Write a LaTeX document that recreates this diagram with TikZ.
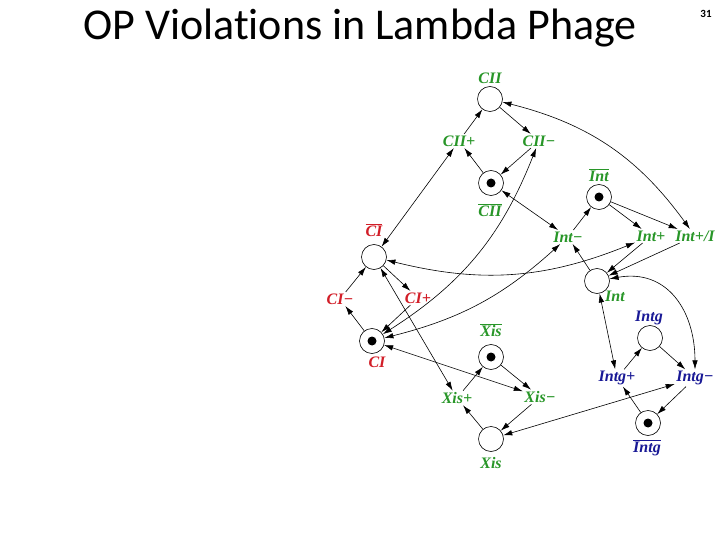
\documentclass[tikz,border=0pt]{standalone}
\usepackage{fontspec}
\setmainfont{Liberation Serif}
\newfontfamily\titlefont[Ligatures=NoCommon]{Carlito}
\usetikzlibrary{arrows.meta}
\definecolor{cgreen}{RGB}{40,150,40}
\definecolor{cred}{RGB}{210,30,40}
\definecolor{cblue}{RGB}{25,25,150}
\begin{document}
\begin{tikzpicture}[x=1pt,y=1pt,
 place/.style={circle,draw,minimum size=25pt,inner sep=0pt,line width=0.6pt},
 tok/.style={place,path picture={\fill[black] (path picture bounding box.center) circle (4.5pt);}},
 tr/.style={inner sep=1.5pt,font=\bfseries\itshape\fontsize{16}{16}\selectfont},
 lab/.style={inner sep=0pt,font=\bfseries\itshape\fontsize{16}{16}\selectfont},
 arc/.style={-{Latex[length=9pt,width=5.5pt]},line width=0.6pt},
 darc/.style={{Latex[length=9pt,width=5.5pt]}-{Latex[length=9pt,width=5.5pt]},line width=0.6pt}]
\fill[white] (0,0) rectangle (720,-540);
\useasboundingbox (0,0) rectangle (720,-540);

\node[font=\titlefont\fontsize{44}{44}\selectfont,anchor=base] (title) at (360,-40) {OP Violations in Lambda Phage};
\node[font=\titlefont\fontsize{11}{11}\selectfont\bfseries] (pg) at (706,-14) {31};

% CII
\node[place] (CII) at (490,-99) {};
\node[lab,cgreen] (lCII) at (490,-78) {CII};
\node[tok] (CIIb) at (491,-183) {};
\node[lab,cgreen] (lCIIb) at (490,-210) {$\overline{\mbox{CII}}$};
\node[tr,cgreen] (CIIp) at (459,-141) {CII+};
\node[tr,cgreen] (CIIm) at (539,-141) {CII−};
% Int
\node[tok] (Intb) at (599,-197) {};
\node[lab,cgreen] (lIntb) at (599,-175) {$\overline{\mbox{Int}}$};
\node[place] (Int) at (597,-281) {};
\node[lab,cgreen] (lInt) at (615,-296) {Int};
\node[tr,cgreen] (Intm) at (568,-237) {Int−};
\node[tr,cgreen] (Intp) at (651,-236) {Int+};
\node[tr,cgreen] (IntpI) at (695,-236) {Int+/I};
% CI
\node[place] (CIb) at (374,-257) {};
\node[lab,cred] (lCIb) at (374,-230) {$\overline{\mbox{CI}}$};
\node[tok] (CI) at (372,-341) {};
\node[lab,cred] (lCI) at (377,-362) {CI};
\node[tr,cred] (CIm) at (340,-299) {CI−};
\node[tr,cred] (CIp) at (418,-298) {CI+};
% Xis
\node[tok] (Xisb) at (491,-357) {};
\node[lab,cgreen] (lXisb) at (491,-330) {$\overline{\mbox{Xis}}$};
\node[place] (Xis) at (491,-439) {};
\node[lab,cgreen] (lXis) at (491,-463) {Xis};
\node[tr,cgreen] (Xisp) at (457,-398) {Xis+};
\node[tr,cgreen] (Xism) at (540,-397) {Xis−};
% Intg
\node[place] (Intg) at (650,-338) {};
\node[lab,cblue] (lIntg) at (649,-318) {Intg};
\node[tok] (Intgb) at (648,-423) {};
\node[lab,cblue] (lIntgb) at (647,-448) {$\overline{\mbox{Intg}}$};
\node[tr,cblue] (Intgp) at (617,-378) {Intg+};
\node[tr,cblue] (Intgm) at (695,-378) {Intg−};

% single arcs
\draw[arc] (CIIp) -- (CII);
\draw[arc] (CII) -- (CIIm);
\draw[arc] (CIIm) -- (CIIb);
\draw[arc] (CIIb) -- (CIIp);
\draw[arc] (CIb) -- (CIp);
\draw[arc] (CIp) -- (CI);
\draw[arc] (CI) -- (CIm);
\draw[arc] (CIm) -- (CIb);
\draw[arc] (Intm) -- (Intb);
\draw[arc] (Intb) -- (Intp);
\draw[arc] (Intb) -- (IntpI);
\draw[arc] (Intp) -- (Int);
\draw[arc] (IntpI) -- (Int);
\draw[arc] (Int) -- (Intm);
\draw[arc] (Xis) -- (Xisp);
\draw[arc] (Xisp) -- (Xisb);
\draw[arc] (Xisb) -- (Xism);
\draw[arc] (Xism) -- (Xis);
\draw[arc] (Intgp) -- (Intg);
\draw[arc] (Intg) -- (Intgm);
\draw[arc] (Intgm) -- (Intgb);
\draw[arc] (Intgb) -- (Intgp);
% test arcs
\draw[darc] (CIIp) -- (CIb);
\draw[darc] (CIIb) -- (Intm);
\draw[darc] (CII) to[bend left=20] (IntpI);
\draw[darc] (CIb) to[bend right=18] (Intp);
\draw[darc] (CIIm) to[bend left=18] (CI);
\draw[darc] (Intm) to[bend left=14] (CI);
\draw[darc] (CIb) -- (Xisp);
\draw[darc] (CI) -- (Xism);
\draw[darc] (Int) -- (Intgp);
\draw[darc] (Int) to[out=10,in=90,looseness=1.2] (Intgm);
\draw[darc] (Intgm) -- (Xis);
\end{tikzpicture}
\end{document}
